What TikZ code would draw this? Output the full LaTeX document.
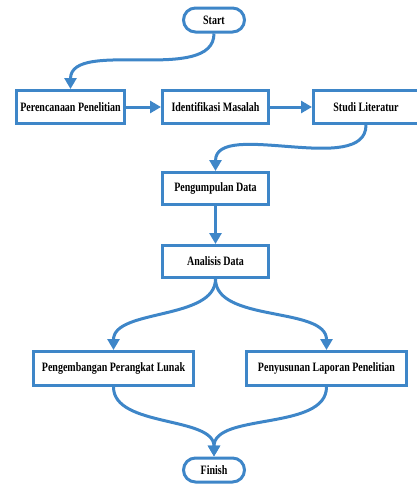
\documentclass[tikz,border=0pt]{standalone}
\usepackage{fontspec}
\setmainfont{Liberation Serif}[FakeStretch=0.78]
\usetikzlibrary{arrows.meta}
\definecolor{flowblue}{RGB}{62,134,200}
\begin{document}
\begin{tikzpicture}[x=1pt,y=-1pt,
  box/.style={draw=flowblue, line width=3pt, fill=white, inner sep=0pt, minimum height=33pt, font=\fontsize{12.8}{14}\selectfont\bfseries, text=black},
  term/.style={box, rounded corners=12pt, minimum width=61pt, minimum height=24pt},
  conn/.style={draw=flowblue, line width=3pt, -{Triangle[length=11pt,width=12pt]}},
  curve/.style={out=-90, in=90, looseness=0.85}]
\useasboundingbox (0,0) rectangle (416,485);
\node[term] (start) at (214,20) {Start};
\node[box, minimum width=108pt] (plan) at (70.5,107) {Perencanaan Penelitian};
\node[box, minimum width=106pt] (ident) at (215.5,107) {Identifikasi Masalah};
\node[box, minimum width=105pt] (studi) at (366,107) {Studi Literatur};
\node[box, minimum width=106pt, minimum height=32pt] (kumpul) at (215.5,188.5) {Pengumpulan Data};
\node[box, minimum width=106pt, minimum height=32pt] (analisis) at (215.5,261.5) {Analisis Data};
\node[box, minimum width=160pt, minimum height=34pt] (kembang) at (113.5,368.5) {Pengembangan Perangkat Lunak};
\node[box, minimum width=160pt, minimum height=34pt] (susun) at (326.5,368.5) {Penyusunan Laporan Penelitian};
\node[term] (finish) at (214,470) {Finish};
\draw[conn] (start.south) to[curve] (plan.north);
\draw[conn] (plan.east) -- (ident.west);
\draw[conn] (ident.east) -- (studi.west);
\draw[conn] (studi.south) to[curve] (kumpul.north);
\draw[conn] (kumpul.south) -- (analisis.north);
\draw[conn] (analisis.south) to[curve] (kembang.north);
\draw[conn] (analisis.south) to[curve] (susun.north);
\draw[conn] (kembang.south) to[curve] (finish.north);
\draw[conn] (susun.south) to[curve] (finish.north);
\end{tikzpicture}
\end{document}
